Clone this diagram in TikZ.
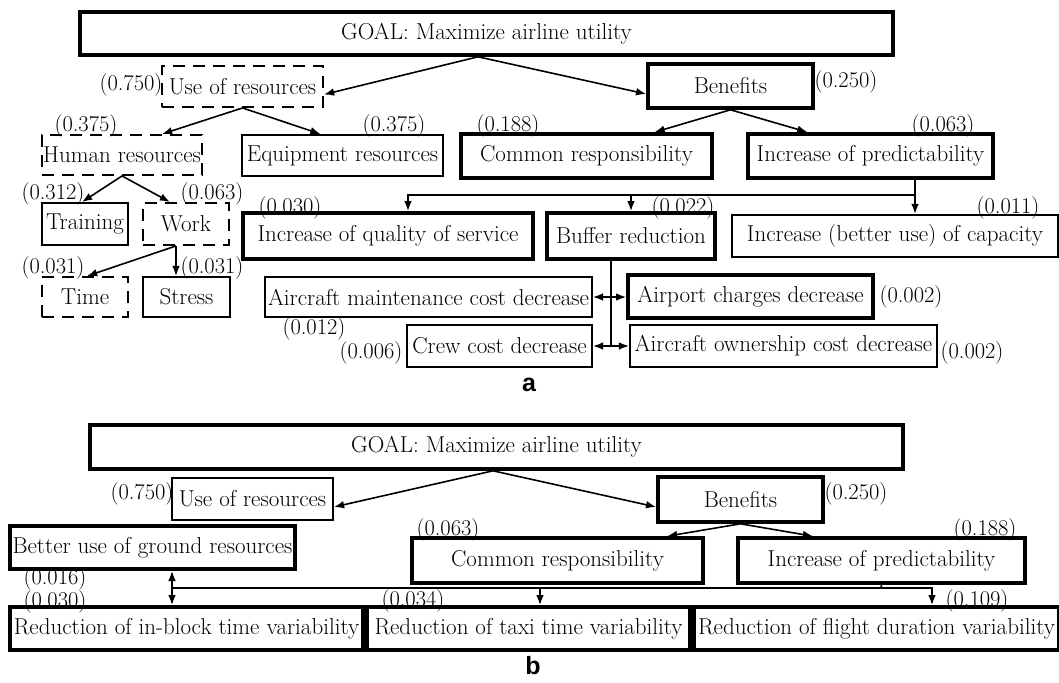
\documentclass[tikz,border=0pt]{standalone}
\usepackage{fontspec}
\newfontfamily\panelfont{Liberation Sans}
\usetikzlibrary{arrows.meta,positioning}

\tikzset{
  box/.style={draw,line width=1.9pt,inner sep=0pt,font=\fontsize{23}{26}\selectfont\addfontfeatures{FakeBold=0.4}},
  thickbox/.style={box,line width=3.6pt},
  dashbox/.style={box,dash pattern=on 12pt off 8pt},
  wh/.style 2 args={minimum width=#1pt,minimum height=#2pt},
  weight/.style={inner sep=0pt,font=\fontsize{22.5}{26}\selectfont\addfontfeatures{FakeBold=0.4}},
  panel/.style={inner sep=0pt,font=\fontsize{25}{28}\panelfont\bfseries},
  conn/.style={line width=1.6pt},
}

\begin{document}
\begin{tikzpicture}[>=Latex, x=1pt, y=-1pt]
  \useasboundingbox (0,0) rectangle (1059,682);

  % panel a
  \node[thickbox,wh={813}{43}] (goalA) at (486.5,33.5) {GOAL: Maximize airline utility};
  \node[dashbox,wh={161}{41}] (useA) at (242.5,86.5) {Use of resources};
  \node[thickbox,wh={165}{44}] (benA) at (730.5,86) {Benefits};
  \node[dashbox,wh={160}{40}] (humA) at (122,155) {Human resources};
  \node[box,wh={201}{41}] (equA) at (342.5,155.5) {Equipment resources};
  \node[thickbox,wh={251}{44}] (comA) at (586.5,156) {Common responsibility};
  \node[thickbox,wh={245}{44}] (preA) at (870.5,156) {Increase of predictability};
  \node[box,wh={86}{42}] (traA) at (85,224) {Training};
  \node[dashbox,wh={86}{42}] (worA) at (186,224) {Work};
  \node[dashbox,wh={86}{40}] (timA) at (85,297) {Time};
  \node[box,wh={87}{40}] (strA) at (186.5,297) {Stress};
  \node[thickbox,wh={290}{46}] (quaA) at (388,236) {Increase of quality of service};
  \node[thickbox,wh={168}{46}] (bufA) at (631,236) {Buffer reduction};
  \node[box,wh={326}{42}] (capA) at (895,236) {Increase (better use) of capacity};
  \node[box,wh={327}{40}] (maiA) at (428.5,297) {Aircraft maintenance cost decrease};
  \node[box,wh={185}{42}] (creA) at (499.5,346) {Crew cost decrease};
  \node[thickbox,wh={245}{43}] (airA) at (750.5,296.5) {Airport charges decrease};
  \node[box,wh={307}{42}] (ownA) at (783.5,346) {Aircraft ownership cost decrease};

  \node[weight] (wUseA) at (131,85) {(0.750)};
  \node[weight] (wBenA) at (846,82) {(0.250)};
  \node[weight] (wHumA) at (86,126) {(0.375)};
  \node[weight] (wEquA) at (394,126) {(0.375)};
  \node[weight] (wComA) at (508,126) {(0.188)};
  \node[weight] (wPreA) at (943,126) {(0.063)};
  \node[weight] (wTraA) at (53,194) {(0.312)};
  \node[weight] (wWorA) at (212,194) {(0.063)};
  \node[weight] (wTimA) at (53,268) {(0.031)};
  \node[weight] (wStrA) at (212,268) {(0.031)};
  \node[weight] (wQuaA) at (290,208) {(0.030)};
  \node[weight] (wBufA) at (683,208) {(0.022)};
  \node[weight] (wCapA) at (1008,208) {(0.011)};
  \node[weight] (wMaiA) at (314,329) {(0.012)};
  \node[weight] (wCreA) at (371,353) {(0.006)};
  \node[weight] (wAirA) at (911,297) {(0.002)};
  \node[weight] (wOwnA) at (972,353) {(0.002)};

  \draw[conn,->] ([xshift=-8.5pt]goalA.south) -- ([yshift=-8pt]useA.east);
  \draw[conn,->] ([xshift=-8.5pt]goalA.south) -- ([yshift=-8pt]benA.west);
  \draw[conn,->] (useA.south) -- ([xshift=40pt]humA.north);
  \draw[conn,->] (useA.south) -- ([xshift=-22pt]equA.north);
  \draw[conn,->] (benA.south) -- ([xshift=68pt]comA.north);
  \draw[conn,->] (benA.south) -- ([xshift=-63pt]preA.north);
  \draw[conn,->] (humA.south) -- ([xshift=-3pt]traA.north);
  \draw[conn,->] (humA.south) -- ([xshift=-16pt]worA.north);
  \draw[conn,->] ([xshift=-10pt]worA.south) -- ([xshift=2pt]timA.north);
  \draw[conn,->] ([xshift=-10pt]worA.south) -- ([xshift=-10.5pt]strA.north);

  \coordinate (busA) at (915,195);
  \coordinate (quaJ) at ([xshift=20pt]quaA.north);
  \draw[conn] (busA |- preA.south) -- (busA);
  \draw[conn,->] (busA) -| (quaJ);
  \draw[conn,->] (busA -| bufA.north) -- (bufA.north);
  \draw[conn,->] (busA) -- (busA |- capA.north);

  \coordinate (bufJ) at ([xshift=-20pt]bufA.south);
  \draw[conn] (bufJ) -- (bufJ |- creA.east);
  \draw[conn,<->] (maiA.east) -- (maiA.east -| airA.west);
  \draw[conn,<->] (creA.east) -- (creA.east -| ownA.west);

  \node[panel] (tagA) at (529,385) {a};

  % panel b
  \node[thickbox,wh={813}{44}] (goalB) at (496.5,447) {GOAL: Maximize airline utility};
  \node[box,wh={161}{42}] (useB) at (252.5,499) {Use of resources};
  \node[thickbox,wh={165}{45}] (benB) at (740.5,499.5) {Benefits};
  \node[thickbox,wh={285}{43}] (gndB) at (152.5,547.5) {Better use of ground resources};
  \node[thickbox,wh={291}{45}] (comB) at (557.5,560.5) {Common responsibility};
  \node[thickbox,wh={287}{45}] (preB) at (881.5,560.5) {Increase of predictability};
  \node[thickbox,wh={353}{43}] (inbB) at (186.5,628.5) {Reduction of in-block time variability};
  \node[thickbox,wh={323}{43}] (taxB) at (528.5,628.5) {Reduction of taxi time variability};
  \node[thickbox,wh={365}{43}] (fliB) at (876.5,628.5) {Reduction of flight duration variability};

  \node[weight] (wUseB) at (142,494) {(0.750)};
  \node[weight] (wBenB) at (856,494) {(0.250)};
  \node[weight] (wComB) at (448,530) {(0.063)};
  \node[weight] (wPreB) at (985,530) {(0.188)};
  \node[weight] (wGndB) at (55,579) {(0.016)};
  \node[weight] (wInbB) at (55,602) {(0.030)};
  \node[weight] (wTaxB) at (413,601) {(0.034)};
  \node[weight] (wFliB) at (977,601) {(0.109)};

  \draw[conn,->] ([xshift=-3.5pt]goalB.south) -- ([yshift=-8pt]useB.east);
  \draw[conn,->] ([xshift=-3.5pt]goalB.south) -- ([yshift=-7.5pt]benB.west);
  \draw[conn,->] (benB.south) -- ([xshift=109.5pt]comB.north);
  \draw[conn,->] (benB.south) -- ([xshift=-68.5pt]preB.north);

  \coordinate (busB) at (881,588);
  \coordinate (gndJ) at ([xshift=19.5pt]gndB.south);
  \coordinate (taxJ) at ([xshift=11.5pt]taxB.north);
  \coordinate (fliJ) at ([xshift=55.5pt]fliB.north);
  \draw[conn] (preB.south) -- (busB);
  \draw[conn] (busB) -- (busB -| gndJ);
  \draw[conn,<->] (gndJ) -- (gndJ |- inbB.north);
  \draw[conn,->] (busB -| taxJ) -- (taxJ);
  \draw[conn,->] (busB) -| (fliJ);

  \node[panel] (tagB) at (533,666) {b};
\end{tikzpicture}
\end{document}
